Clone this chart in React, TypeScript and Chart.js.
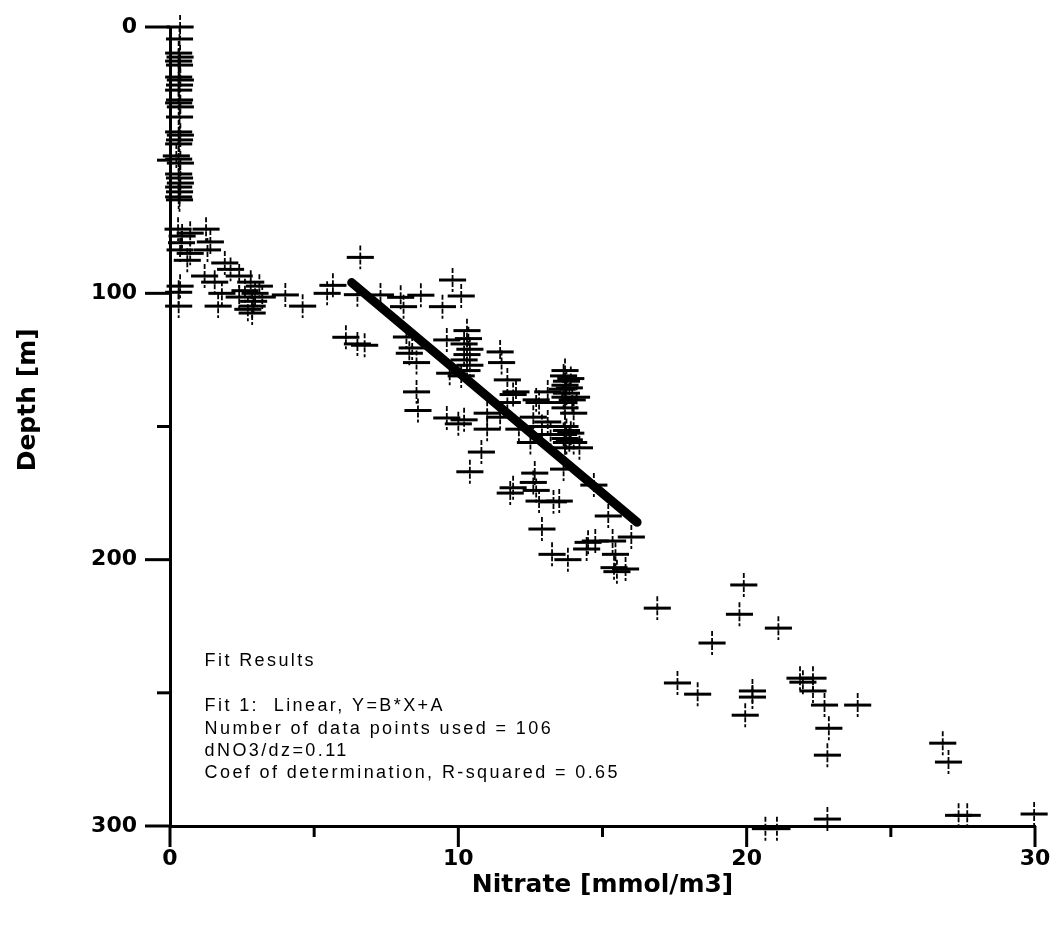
import React, { useEffect, useRef } from "react";
import { Chart, registerables } from "chart.js";

Chart.register(...registerables);

// Near-surface samples (mixed layer, nitrate depleted)
const surfaceNitrate = [0.35, 0.33, 0.3, 0.35, 0.3, 0.33, 0.3, 0.36, 0.33, 0.3, 0.33, 0.3, 0.36, 0.33, 0.3, 0.36, 0.33, 0.3, 0.22, 0.3, 0.36, 0.3, 0.33, 0.36, 0.3, 0.33, 0.3, 0.33];
const surfaceDepth = [0, 4.5, 9.8, 11.3, 12.8, 14.3, 18.8, 19.9, 21.8, 23.7, 27.4, 28.5, 30.0, 33.8, 39.4, 40.6, 42.4, 43.9, 48.4, 49.6, 51.1, 55.2, 56.7, 58.6, 60.1, 61.9, 63.8, 64.9];

// Top of the nitracline
const shelfNitrate = [0.28, 1.25, 0.7, 0.42, 0.4, 1.4, 0.35, 1.3, 0.7, 0.6, 1.9, 2.1, 1.2, 2.4, 1.55, 2.8, 0.35, 3.1, 1.8, 2.95, 2.4, 3.2, 2.6, 2.9, 2.7, 0.3, 1.67, 2.85, 4.6, 2.85, 4.0, 5.45, 5.65, 0.3];
const shelfDepth = [75.9, 75.9, 77.4, 78.5, 81, 80.7, 83.7, 83.7, 85, 87.6, 88.6, 91, 93.5, 93.5, 95.8, 95.8, 97.3, 97.3, 100, 100, 101.4, 101.4, 99, 103, 106, 104.8, 104.8, 104.8, 104.8, 107.4, 100.6, 100, 97, 99.6];

// Gradient layer used for the linear fit
const gradientNitrate = [
  6.6, 6.5, 7.3, 8.0, 8.7, 8.1, 9.8, 10.1, 9.45, 6.1, 6.5, 6.75, 8.2, 8.4, 8.3, 8.55, 8.55, 8.6, 9.6, 9.7,
  10.3, 10.35, 10.2, 10.4, 10.3, 10.2, 10.4, 10.3, 10.1, 11.45, 11.5, 11.7, 11.9, 11.7, 10.2, 9.6, 10.0,
  10.8, 10.4, 11.0, 11.0, 11.45, 12.0, 12.7, 12.6, 12.9, 13.2, 12.8, 13.1, 12.1, 12.5, 13.1,
  13.7, 13.65, 13.75, 13.7, 13.6, 13.75, 13.7, 13.65, 13.7, 13.7, 13.75, 13.65, 13.7, 13.75, 13.7,
  13.9, 13.85, 13.95, 13.9, 13.85,
  14.2, 14.0, 14.0, 14.1, 13.65, 12.65, 12.6, 12.7, 11.9, 11.8, 12.8, 13.5, 13.3, 12.9, 14.7, 15.2, 16.0,
  14.5, 14.75, 15.35, 14.45, 13.25, 13.8, 15.45, 15.4, 15.8, 15.5,
];
const gradientDepth = [
  86.5, 100.5, 100.6, 101.5, 100.7, 105, 95, 101, 105, 116.5, 119, 119.5, 116.4, 120.5, 122.5, 126, 137, 144, 117.5, 130,
  114, 117, 119, 121, 123, 125, 127, 129, 131, 122, 126, 132.5, 138, 141, 147.5, 146.8, 149,
  159.6, 167, 151, 145, 146.5, 137, 140, 146.5, 150, 153, 141, 148.3, 151, 156, 137,
  129, 131, 133, 134.5, 136, 137.5, 139, 141, 143, 150, 151.5, 153, 154.5, 156, 158,
  132, 135.5, 140, 152.5, 155,
  158, 156, 145, 139, 166, 167.5, 171, 174, 173, 175, 178, 178, 178.3, 188.5, 172, 183.6, 191.5,
  193.5, 193, 193, 196, 198, 200, 198, 203, 203.5, 204.5,
];

// Deep samples below the fitted layer
const deepNitrate = [16.9, 19.9, 19.75, 21.1, 18.8, 17.6, 18.3, 20.2, 20.2, 19.95, 21.85, 21.95, 22.3, 22.3, 22.7, 23.85, 22.85, 22.8, 26.8, 27.0, 22.8, 27.35, 27.65, 29.97, 20.65, 21.05];
const deepDepth = [218.2, 209.5, 220.5, 225.7, 231.3, 246.3, 250.5, 249.3, 251.6, 258.4, 244.5, 246, 244.5, 249.3, 254.6, 254.6, 263.3, 273.4, 268.9, 276, 297.4, 296, 296, 295.5, 301, 301];

// Half-widths of the measurement error bars
const NITRATE_ERR = 0.47;
const DEPTH_ERR = 4.5;

// Linear fit: Y = B*X + A, reported as dNO3/dz
const DNO3_DZ = 0.11;
const FIT_DEPTH_AT_ZERO = 38.7;
const fitNitrate = [6.3, 16.2];
const fitDepth = fitNitrate.map((n) => FIT_DEPTH_AT_ZERO + n / DNO3_DZ);

const xTicks = [0, 5, 10, 15, 20, 25, 30];
const yTicks = [0, 50, 100, 150, 200, 250, 300];

const fitLines = [
  "Fit Results",
  "",
  "Fit 1:  Linear, Y=B*X+A",
  "Number of data points used = 106",
  `dNO3/dz=${DNO3_DZ.toFixed(2)}`,
  "Coef of determination, R-squared = 0.65",
];

const nitrate = [...surfaceNitrate, ...shelfNitrate, ...gradientNitrate, ...deepNitrate];
const depth = [...surfaceDepth, ...shelfDepth, ...gradientDepth, ...deepDepth];

const errorBarsPlugin = {
  id: "errorBars",
  beforeDatasetsDraw(chart: any) {
    const { ctx, scales } = chart;
    const x = scales.x;
    const y = scales.y;
    ctx.save();
    ctx.strokeStyle = "#000";
    for (let i = 0; i < nitrate.length; i++) {
      const px = x.getPixelForValue(nitrate[i]);
      const py = y.getPixelForValue(depth[i]);
      const x0 = x.getPixelForValue(nitrate[i] - NITRATE_ERR);
      const x1 = x.getPixelForValue(nitrate[i] + NITRATE_ERR);
      const y0 = y.getPixelForValue(depth[i] - DEPTH_ERR);
      const y1 = y.getPixelForValue(depth[i] + DEPTH_ERR);
      ctx.setLineDash([]);
      ctx.lineWidth = 3;
      ctx.beginPath();
      ctx.moveTo(x0, py);
      ctx.lineTo(x1, py);
      ctx.stroke();
      ctx.setLineDash([5, 2]);
      ctx.lineWidth = 1.8;
      ctx.beginPath();
      ctx.moveTo(px, y0);
      ctx.lineTo(px, y1);
      ctx.stroke();
    }
    ctx.restore();
  },
};

const axisDecorPlugin = {
  id: "axisDecor",
  afterDraw(chart: any) {
    const { ctx, scales, chartArea } = chart;
    const x = scales.x;
    const y = scales.y;
    ctx.save();
    ctx.strokeStyle = "#000";
    ctx.lineWidth = 3;
    ctx.lineCap = "butt";
    xTicks.forEach((v) => {
      const px = x.getPixelForValue(v);
      const len = v % 10 === 0 ? 21 : 11;
      ctx.beginPath();
      ctx.moveTo(px, chartArea.bottom);
      ctx.lineTo(px, chartArea.bottom + len);
      ctx.stroke();
    });
    yTicks.forEach((v) => {
      const py = y.getPixelForValue(v);
      const len = v % 100 === 0 ? 25 : 13;
      ctx.beginPath();
      ctx.moveTo(chartArea.left, py);
      ctx.lineTo(chartArea.left - len, py);
      ctx.stroke();
    });

    // Vertical axis title
    ctx.fillStyle = "#000";
    ctx.font = "bold 25px 'DejaVu Sans'";
    ctx.textAlign = "center";
    ctx.textBaseline = "middle";
    ctx.translate(28, y.getPixelForValue(140));
    ctx.rotate(-Math.PI / 2);
    ctx.fillText("Depth [m]", 0, 0);
    ctx.restore();

    // Fit summary
    ctx.save();
    ctx.fillStyle = "#000";
    ctx.font = "18px 'Liberation Sans'";
    (ctx as any).letterSpacing = "2.4px";
    ctx.textAlign = "left";
    ctx.textBaseline = "middle";
    const tx = x.getPixelForValue(1.2);
    const ty = y.getPixelForValue(238);
    const offsets = [0, 23, 45.5, 68.5, 90.5, 112.5];
    fitLines.forEach((line, i) => {
      if (line) ctx.fillText(line, tx, ty + offsets[i]);
    });
    ctx.restore();
  },
};

export default function App() {
  const canvasRef = useRef<HTMLCanvasElement | null>(null);

  useEffect(() => {
    const canvas = canvasRef.current;
    if (!canvas) return;
    const chart = new Chart(canvas, {
      type: "scatter",
      data: {
        datasets: [
          {
            label: "Fit 1",
            data: fitNitrate.map((n, i) => ({ x: n, y: fitDepth[i] })),
            showLine: true,
            borderColor: "#000",
            borderWidth: 9,
            borderCapStyle: "round",
            pointRadius: 0,
            order: 0,
          },
          {
            label: "Nitrate",
            data: nitrate.map((n, i) => ({ x: n, y: depth[i] })),
            backgroundColor: "#000",
            borderWidth: 0,
            pointRadius: 1.6,
            order: 1,
          },
        ],
      },
      plugins: [errorBarsPlugin, axisDecorPlugin],
      options: {
        responsive: false,
        animation: false,
        layout: { padding: { left: 0, top: 27, right: 20, bottom: 0 } },
        plugins: {
          legend: { display: false },
          tooltip: { enabled: false },
        },
        scales: {
          x: {
            type: "linear",
            min: 0,
            max: 30,
            afterFit: (scale: any) => {
              scale.height = 110;
              scale.paddingLeft = 0;
              scale.paddingRight = 0;
            },
            grid: { display: false, drawTicks: false },
            border: { display: true, width: 3, color: "#000" },
            ticks: {
              stepSize: 5,
              padding: 20,
              color: "#000",
              maxRotation: 0,
              font: { family: "'DejaVu Sans'", weight: "bold", size: 22 },
              callback: (v: any) => (Number(v) % 10 === 0 ? String(v) : ""),
            },
            title: {
              display: true,
              text: "Nitrate [mmol/m3]",
              color: "#000",
              font: { family: "'DejaVu Sans'", weight: "bold", size: 25 },
              padding: { top: 0, bottom: 36 },
            },
          },
          y: {
            type: "linear",
            reverse: true,
            min: 0,
            max: 300,
            afterFit: (scale: any) => {
              scale.width = 170;
              scale.paddingTop = 0;
              scale.paddingBottom = 0;
            },
            grid: { display: false, drawTicks: false },
            border: { display: true, width: 3, color: "#000" },
            ticks: {
              stepSize: 50,
              padding: 33,
              color: "#000",
              font: { family: "'DejaVu Sans'", weight: "bold", size: 22 },
              callback: (v: any) => (Number(v) % 100 === 0 ? String(v) : ""),
            },
          },
        },
      },
    } as any);
    return () => chart.destroy();
  }, []);

  return (
    <div style={{ position: "absolute", left: 0, top: 0, width: 1055, height: 936, background: "#fff" }}>
      <canvas ref={canvasRef} width={1055} height={936} style={{ display: "block" }} />
    </div>
  );
}
